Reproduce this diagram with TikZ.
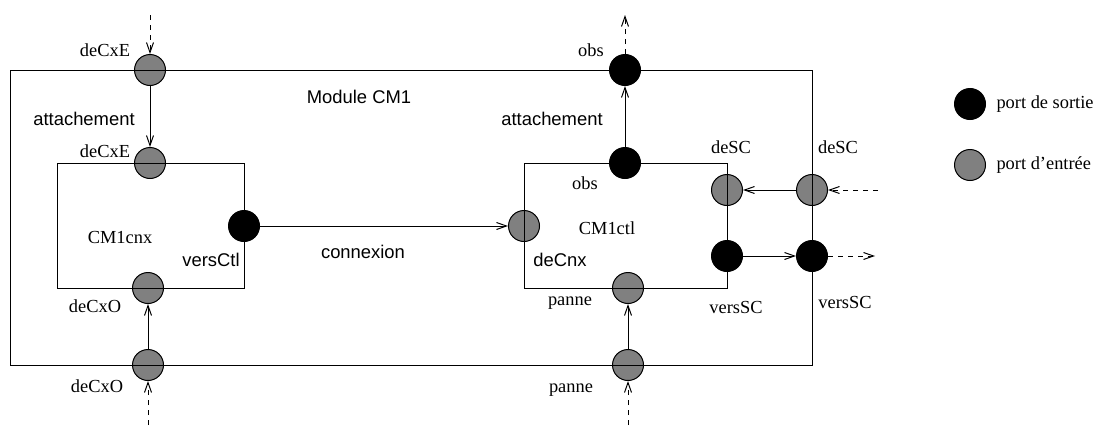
\documentclass[tikz,border=0pt]{standalone}
\usepackage{fontspec}
\setmainfont{Liberation Serif}
\setsansfont{Liberation Sans}
\usetikzlibrary{arrows.meta}
\definecolor{portgray}{gray}{0.5}

\begin{document}
\begin{tikzpicture}[x=0.5pt, y=-0.5pt, line width=0.5pt,
  every node/.style={font=\fontsize{9.2}{11}\selectfont, inner sep=0pt},
  port/.style={circle, draw, line width=0.5pt, minimum size=15.5pt, inner sep=0pt},
  sortie/.style={port, fill=black},
  entree/.style={port, fill=portgray},
  sf/.style={font=\fontsize{9.2}{11}\selectfont\sffamily},
  lien/.style={-{Straight Barb[length=5pt,width=3.5pt]}},
  ext/.style={lien, dash pattern=on 2.5pt off 2.5pt}]
  \useasboundingbox (0,0) rectangle (1096,428);

  % ports of the module
  \node[entree] (mCxE) at (150,70) {};
  \node[sortie] (mObs) at (625,70) {};
  \node[entree] (mDeSC) at (812,190) {};
  \node[sortie] (mVersSC) at (812,256) {};
  \node[entree] (mCxO) at (148,365) {};
  \node[entree] (mPanne) at (628,365) {};

  % ports of CM1cnx and CM1ctl
  \node[entree] (cCxE) at (150,163) {};
  \node[sortie] (cVersCtl) at (244,226) {};
  \node[entree] (cCxO) at (148,288) {};
  \node[sortie] (tObs) at (625,163) {};
  \node[entree] (tDeCnx) at (524,226) {};
  \node[entree] (tDeSC) at (727,190) {};
  \node[sortie] (tVersSC) at (727,256) {};
  \node[entree] (tPanne) at (628,288) {};

  % boxes
  \draw (10,70) rectangle (812,365);
  \draw (57,163) rectangle (244,288);
  \draw (524,163) rectangle (727,288);

  % texts
  \node (lCxE1) at (105,50) {deCxE};
  \node[sf] (lModule) at (359,97) {Module CM1};
  \node[sf] (lAttach1) at (84,119) {attachement};
  \node (lCxE2) at (105,151) {deCxE};
  \node (lCnx) at (120,237) {CM1cnx};
  \node[sf] (lVersCtl) at (211,260) {versCtl};
  \node (lCxO2) at (95,306) {deCxO};
  \node (lCxO1) at (97,386) {deCxO};
  \node[sf] (lConnexion) at (363,252) {connexion};
  \node (lObs1) at (591,50) {obs};
  \node[sf] (lAttach2) at (552,119) {attachement};
  \node (lDeSC2) at (731,147) {deSC};
  \node (lDeSC1) at (838,147) {deSC};
  \node (lObs2) at (585,183) {obs};
  \node (lCtl) at (607,228) {CM1ctl};
  \node[sf] (lDeCnx) at (560,260) {deCnx};
  \node (lPanne2) at (570,303) {panne};
  \node (lVersSC2) at (736,307) {versSC};
  \node (lVersSC1) at (845,302) {versSC};
  \node (lPanne1) at (571,390) {panne};

  % legend
  \node[sortie] (legSortie) at (970,104) {};
  \node[entree] (legEntree) at (970,165) {};
  \node[anchor=west] (lSortie) at (996,104) {port de sortie};
  \node[anchor=west] (lEntree) at (996,165) {port d’entrée};

  % links
  \draw[lien] (mCxE) -- (cCxE);
  \draw[lien] (mCxO) -- (cCxO);
  \draw[lien] (cVersCtl) -- (tDeCnx);
  \draw[lien] (tObs) -- (mObs);
  \draw[lien] (mDeSC) -- (tDeSC);
  \draw[lien] (tVersSC) -- (mVersSC);
  \draw[lien] (mPanne) -- (tPanne);

  % outside ends
  \coordinate (inCxE) at (150,15);
  \coordinate (outObs) at (625,15);
  \coordinate (inDeSC) at (878,190);
  \coordinate (outVersSC) at (875,256);
  \coordinate (inCxO) at (148,425);
  \coordinate (inPanne) at (628,425);

  \draw[ext] (inCxE) -- (mCxE);
  \draw[ext] (mObs) -- (outObs);
  \draw[ext] (inDeSC) -- (mDeSC);
  \draw[ext] (mVersSC) -- (outVersSC);
  \draw[ext] (inCxO) -- (mCxO);
  \draw[ext] (inPanne) -- (mPanne);
\end{tikzpicture}
\end{document}
